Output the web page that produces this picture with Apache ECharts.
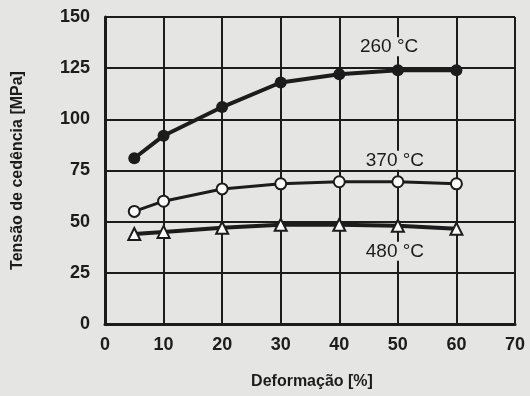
<!DOCTYPE html>
<html>
<head>
<meta charset="utf-8">
<script src="https://cdn.jsdelivr.net/npm/echarts@6/dist/echarts.min.js"></script>
<style>
  html, body { margin: 0; padding: 0; background: #e5e5e3; }
  #chart { width: 530px; height: 396px; }
</style>
</head>
<body>
<div id="chart"></div>
<script>
// deformação [%]
const xs = [5, 10, 20, 30, 40, 50, 60]
// tensão de cedência [MPa]
const s260 = [81, 92, 106, 118, 122, 124, 124]
const s370 = [55, 60, 66, 68.5, 69.5, 69.5, 68.5]
const s480 = [44, 45, 47, 48.5, 48.5, 48, 46.5]
const names = ['260 °C', '370 °C', '480 °C']
// posição dos rótulos (em coordenadas dos dados)
const labelPos = [[48.5, 135.5], [49.5, 80], [49.5, 35.5]]

const ink = '#1c1c1c'
const paper = '#e5e5e3'
const font = '"Liberation Sans Narrow", "Liberation Sans", Arial, sans-serif'

function pairs(ys) { return xs.map((x, i) => [x, ys[i]]) }

function mk(i) {
  return {
    symbol: 'circle', symbolSize: 1,
    itemStyle: { color: 'rgba(0,0,0,0)' },
    data: [{ coord: labelPos[i], value: names[i] }],
    label: {
      show: true, position: 'inside', formatter: names[i],
      color: ink, fontSize: 19, fontFamily: font,
      backgroundColor: paper, padding: [0, 5]
    }
  }
}

const chart = echarts.init(document.getElementById('chart'))
chart.setOption({
  backgroundColor: paper,
  animation: false,
  grid: { left: 105, right: 15, top: 17, bottom: 72 },
  xAxis: {
    type: 'value', min: 0, max: 70, interval: 10,
    name: 'Deformação [%]', nameLocation: 'middle', nameGap: 50,
    nameTextStyle: { color: ink, fontSize: 16, fontWeight: 'bold', fontFamily: 'Liberation Sans, Arial', padding: [0, 0, 0, 4] },
    axisLine: { show: true, lineStyle: { color: ink, width: 3 } },
    axisTick: { show: false },
    axisLabel: { color: ink, fontSize: 18, fontWeight: 'bold', fontFamily: font, margin: 12 },
    splitLine: { show: true, lineStyle: { color: ink, width: 2 } }
  },
  yAxis: {
    type: 'value', min: 0, max: 150, interval: 25,
    name: 'Tensão de cedência [MPa]', nameLocation: 'middle', nameGap: 79, nameRotate: 90,
    nameTextStyle: { color: ink, fontSize: 16, fontWeight: 'bold', fontFamily: 'Liberation Sans, Arial' },
    axisLine: { show: true, lineStyle: { color: ink, width: 3 } },
    axisTick: { show: false },
    axisLabel: { color: ink, fontSize: 18, fontWeight: 'bold', fontFamily: font, margin: 15 },
    splitLine: { show: true, lineStyle: { color: ink, width: 2 } }
  },
  series: [
    {
      type: 'line', data: pairs(s260), symbol: 'circle', symbolSize: 12,
      lineStyle: { color: ink, width: 4 }, itemStyle: { color: ink },
      markPoint: mk(0), z: 5
    },
    {
      type: 'line', data: pairs(s370), symbol: 'circle', symbolSize: 11,
      lineStyle: { color: ink, width: 3 },
      itemStyle: { color: '#fafafa', borderColor: ink, borderWidth: 2 },
      markPoint: mk(1), z: 5
    },
    {
      type: 'line', data: pairs(s480), symbol: 'triangle', symbolSize: 12,
      lineStyle: { color: ink, width: 4 },
      itemStyle: { color: '#fafafa', borderColor: ink, borderWidth: 2 },
      markPoint: mk(2), z: 5
    }
  ]
})
</script>
</body>
</html>
